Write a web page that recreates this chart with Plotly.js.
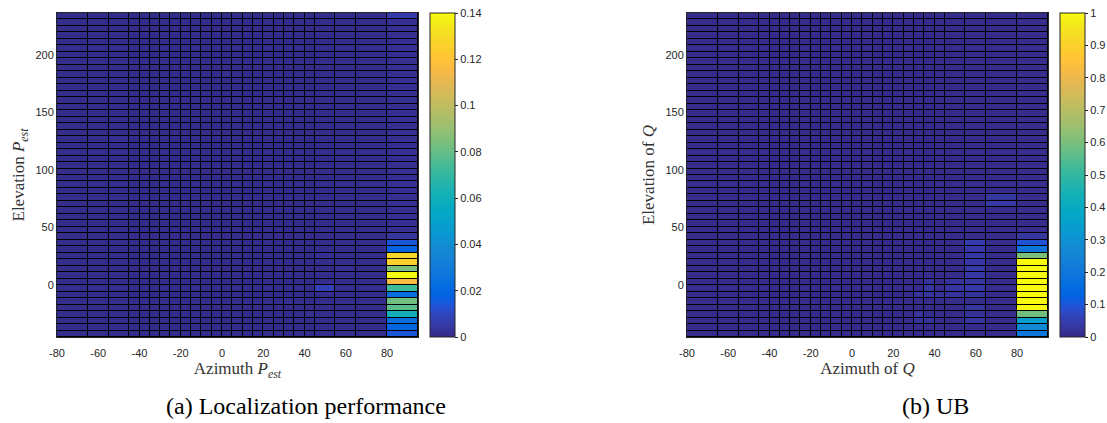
<!DOCTYPE html>
<html><head><meta charset="utf-8">
<script src="https://cdn.plot.ly/plotly-3.0.1.min.js"></script>
<style>html,body{margin:0;padding:0;background:#fff}#chart{width:1107px;height:423px}</style>
</head><body><div id="chart"></div><script>
// Cell edges (azimuth columns, elevation rows)
const azimuthEdges = [-80,-65,-55,-45,-40,-35,-30,-25,-20,-15,-10,-5,0,5,10,15,20,25,30,35,40,45,55,65,80,95];
const elevationEdges = [-45,-39.375,-33.75,-28.125,-22.5,-16.875,-11.25,-5.625,0,5.625,11.25,16.875,22.5,28.125,33.75,39.375,45,50.625,56.25,61.875,67.5,73.125,78.75,84.375,90,95.625,101.25,106.875,112.5,118.125,123.75,129.375,135,140.625,146.25,151.875,157.5,163.125,168.75,174.375,180,185.625,191.25,196.875,202.5,208.125,213.75,219.375,225,230.625,236.25];
const xTickVals = [-80,-60,-40,-20,0,20,40,60,80];
const xTickText = ['-80','-60','-40','-20','0','20','40','60','80'];
const yTickVals = [0,50,100,150,200];
const yTickText = ['0','50','100','150','200'];
const xTitleA = 'Azimuth <i>P</i><sub><i>est</i></sub>';
const yTitleA = 'Elevation <i>P</i><sub><i>est</i></sub>';
const xTitleB = 'Azimuth of <i>Q</i>';
const yTitleB = 'Elevation of <i>Q</i>';
const captionA = '(a) Localization performance';
const captionB = '(b) UB';

// (a) Localization performance, rows from bottom (elevation -45) to top
const zLocalization = [
[.001,.001,.001,.001,.001,.001,.001,.001,.001,.001,.001,.001,.001,.001,.001,.001,.001,.001,.001,.001,.001,.001,.001,.001,.014],
[.001,.001,.001,.001,.001,.001,.001,.001,.001,.001,.001,.001,.001,.001,.001,.001,.001,.001,.001,.001,.001,.001,.001,.001,.019],
[.001,.001,.001,.001,.001,.001,.001,.001,.001,.001,.001,.001,.001,.001,.001,.001,.001,.001,.001,.001,.001,.001,.001,.001,.024],
[.001,.001,.001,.001,.001,.001,.001,.001,.001,.001,.001,.001,.001,.001,.001,.001,.001,.001,.001,.001,.002,.001,.001,.001,.061],
[.001,.001,.001,.001,.001,.001,.001,.001,.001,.001,.001,.001,.001,.001,.001,.001,.001,.001,.001,.001,.001,.001,.001,.001,.078],
[.001,.001,.001,.001,.001,.001,.001,.001,.001,.001,.001,.001,.001,.001,.001,.001,.001,.001,.002,.001,.001,.001,.001,.001,.082],
[.001,.001,.001,.001,.001,.001,.001,.001,.001,.001,.001,.001,.001,.001,.001,.001,.001,.001,.001,.001,.001,.001,.001,.001,.023],
[.001,.001,.001,.001,.001,.001,.001,.001,.001,.001,.001,.001,.001,.001,.001,.001,.001,.001,.001,.001,.001,.008,.001,.001,.072],
[.001,.001,.001,.001,.001,.001,.001,.001,.001,.001,.001,.001,.001,.001,.001,.001,.001,.001,.001,.001,.001,.001,.001,.001,.116],
[.001,.001,.001,.001,.001,.001,.001,.001,.001,.001,.001,.001,.001,.001,.001,.001,.001,.001,.001,.001,.001,.001,.001,.001,.14],
[.001,.001,.001,.001,.001,.001,.001,.001,.001,.001,.001,.001,.001,.001,.001,.001,.001,.001,.001,.001,.001,.001,.002,.001,.084],
[.001,.001,.001,.001,.001,.001,.001,.001,.001,.001,.001,.001,.001,.001,.001,.001,.001,.001,.001,.001,.001,.001,.001,.001,.125],
[.001,.001,.001,.001,.001,.001,.001,.001,.001,.001,.001,.001,.001,.001,.001,.001,.001,.001,.001,.001,.001,.002,.001,.001,.128],
[.001,.001,.001,.001,.001,.001,.001,.001,.001,.001,.001,.001,.001,.001,.001,.001,.001,.001,.001,.001,.001,.001,.001,.001,.018],
[.001,.001,.001,.001,.001,.001,.001,.001,.001,.001,.001,.001,.001,.001,.001,.001,.001,.001,.001,.001,.001,.001,.001,.001,.014],
[.001,.001,.001,.001,.001,.001,.001,.001,.001,.001,.001,.001,.001,.001,.001,.001,.001,.001,.001,.001,.001,.001,.001,.001,.004],
[.001,.001,.001,.001,.001,.001,.001,.001,.001,.001,.001,.001,.001,.001,.001,.001,.001,.001,.001,.001,.001,.001,.001,.001,.002],
[.001,.001,.001,.001,.001,.001,.001,.001,.001,.001,.001,.001,.001,.001,.001,.001,.001,.001,.001,.001,.001,.001,.001,.001,.002],
[.001,.001,.001,.001,.001,.001,.001,.001,.001,.001,.001,.001,.001,.001,.001,.001,.001,.001,.001,.001,.001,.001,.001,.001,.002],
[.001,.001,.001,.001,.001,.001,.001,.001,.001,.001,.001,.001,.001,.001,.001,.001,.001,.001,.001,.001,.001,.001,.001,.001,.002],
[.001,.001,.001,.001,.001,.001,.001,.001,.001,.001,.001,.001,.001,.001,.001,.001,.001,.001,.001,.001,.001,.001,.001,.001,.002],
[.001,.001,.001,.001,.001,.001,.001,.001,.001,.001,.001,.001,.001,.001,.001,.001,.001,.001,.001,.001,.001,.001,.001,.001,.002],
[.001,.001,.001,.001,.001,.001,.001,.001,.001,.001,.001,.001,.001,.001,.001,.001,.001,.001,.001,.001,.001,.001,.001,.001,.002],
[.001,.001,.001,.001,.001,.001,.001,.001,.001,.001,.001,.001,.001,.001,.001,.001,.001,.001,.001,.001,.001,.001,.001,.001,.002],
[.001,.001,.001,.001,.001,.001,.001,.001,.001,.001,.001,.001,.001,.001,.001,.001,.001,.001,.001,.001,.001,.001,.001,.001,.002],
[.001,.001,.001,.001,.001,.001,.001,.001,.001,.001,.001,.001,.001,.001,.001,.001,.001,.001,.001,.001,.001,.001,.001,.001,.002],
[.001,.001,.001,.001,.001,.001,.001,.001,.001,.001,.001,.001,.001,.001,.001,.001,.001,.001,.001,.001,.001,.001,.001,.001,.002],
[.001,.001,.001,.001,.001,.001,.001,.001,.001,.001,.001,.001,.001,.001,.001,.001,.001,.001,.001,.001,.001,.001,.001,.001,.002],
[.001,.001,.001,.001,.001,.001,.001,.001,.001,.001,.001,.001,.001,.001,.001,.001,.001,.001,.001,.001,.001,.001,.001,.001,.002],
[.001,.001,.001,.001,.001,.001,.001,.001,.001,.001,.001,.001,.001,.001,.001,.001,.001,.001,.001,.001,.001,.001,.001,.001,.002],
[.001,.001,.002,.001,.001,.001,.001,.001,.001,.001,.001,.001,.001,.001,.001,.001,.001,.001,.001,.001,.001,.001,.001,.001,.002],
[.001,.001,.001,.001,.001,.001,.001,.001,.001,.001,.001,.001,.001,.001,.001,.001,.001,.001,.001,.001,.001,.001,.001,.001,.002],
[.001,.001,.001,.001,.001,.001,.001,.001,.001,.001,.001,.001,.001,.001,.001,.001,.001,.001,.001,.001,.001,.001,.001,.001,.002],
[.001,.001,.001,.001,.001,.001,.001,.001,.001,.001,.001,.001,.001,.001,.001,.001,.001,.001,.001,.001,.001,.001,.001,.001,.002],
[.001,.001,.001,.001,.001,.001,.001,.001,.001,.001,.001,.001,.001,.001,.001,.001,.001,.001,.001,.001,.001,.001,.001,.001,.002],
[.001,.001,.001,.001,.001,.001,.001,.001,.001,.001,.001,.001,.001,.001,.001,.001,.001,.001,.001,.001,.001,.001,.001,.001,.002],
[.001,.001,.001,.001,.001,.001,.001,.001,.001,.001,.001,.001,.001,.001,.001,.001,.001,.001,.001,.001,.001,.001,.001,.001,.002],
[.001,.001,.001,.001,.001,.001,.001,.001,.001,.001,.001,.001,.001,.001,.001,.001,.001,.001,.001,.001,.001,.001,.001,.001,.002],
[.001,.001,.001,.001,.001,.001,.001,.001,.001,.001,.001,.001,.001,.001,.001,.001,.001,.001,.001,.001,.001,.001,.001,.001,.002],
[.001,.001,.001,.001,.001,.001,.001,.001,.001,.001,.001,.001,.001,.001,.001,.001,.001,.001,.001,.001,.001,.001,.001,.001,.002],
[.001,.001,.001,.001,.001,.001,.001,.001,.001,.001,.001,.001,.002,.001,.001,.001,.001,.001,.001,.001,.001,.001,.001,.001,.002],
[.001,.001,.001,.001,.001,.001,.001,.001,.001,.001,.001,.001,.001,.001,.001,.001,.001,.001,.001,.001,.001,.001,.001,.001,.002],
[.001,.001,.001,.001,.001,.001,.001,.001,.001,.001,.001,.001,.001,.001,.001,.001,.001,.001,.001,.001,.001,.001,.001,.001,.002],
[.001,.001,.001,.001,.001,.001,.001,.001,.001,.001,.001,.001,.001,.001,.001,.001,.001,.001,.001,.001,.001,.001,.001,.001,.002],
[.001,.001,.001,.001,.001,.001,.001,.001,.001,.001,.001,.001,.001,.001,.001,.001,.001,.001,.001,.001,.001,.001,.001,.001,.002],
[.001,.001,.001,.001,.001,.001,.001,.001,.001,.001,.001,.001,.001,.001,.001,.001,.001,.001,.001,.001,.001,.001,.001,.001,.002],
[.001,.001,.001,.001,.001,.001,.001,.001,.001,.001,.001,.001,.001,.001,.001,.001,.001,.001,.001,.001,.001,.001,.001,.001,.002],
[.001,.001,.001,.001,.001,.001,.001,.001,.001,.001,.001,.001,.001,.001,.001,.001,.001,.001,.001,.001,.001,.001,.001,.001,.002],
[.001,.001,.001,.001,.001,.001,.001,.001,.001,.001,.001,.001,.001,.001,.001,.001,.001,.001,.001,.001,.001,.001,.001,.001,.002],
[.001,.001,.001,.001,.001,.001,.001,.001,.001,.001,.001,.001,.001,.001,.001,.001,.001,.001,.001,.001,.001,.001,.001,.001,.006]
];

// (b) UB, rows from bottom (elevation -45) to top
const zUB = [
[.006,.006,.006,.006,.006,.006,.006,.006,.006,.006,.006,.006,.006,.006,.006,.006,.006,.006,.006,.006,.006,.006,.006,.006,.2],
[.006,.006,.006,.006,.006,.006,.006,.006,.006,.006,.006,.006,.006,.006,.006,.006,.006,.006,.006,.006,.006,.006,.006,.006,.27],
[.006,.006,.006,.006,.006,.006,.006,.006,.006,.006,.006,.006,.006,.006,.006,.006,.006,.006,.025,.025,.006,.006,.03,.006,.34],
[.006,.006,.006,.006,.006,.006,.006,.006,.006,.006,.006,.006,.006,.006,.006,.006,.006,.006,.025,.006,.006,.006,.018,.006,.59],
[.006,.006,.006,.006,.006,.006,.006,.006,.006,.006,.006,.006,.006,.006,.006,.006,.006,.006,.006,.006,.006,.006,.03,.006,1],
[.006,.006,.006,.006,.006,.006,.006,.006,.006,.006,.006,.006,.006,.006,.006,.006,.006,.006,.006,.006,.006,.006,.006,.006,1],
[.006,.006,.006,.006,.006,.006,.006,.006,.006,.006,.006,.006,.006,.006,.006,.006,.006,.006,.025,.03,.018,.025,.022,.006,1],
[.006,.006,.006,.006,.006,.006,.006,.006,.006,.006,.006,.006,.006,.006,.006,.006,.006,.006,.006,.03,.006,.03,.035,.006,1],
[.006,.006,.006,.006,.006,.006,.006,.006,.006,.006,.006,.006,.006,.006,.006,.006,.006,.006,.006,.025,.006,.025,.03,.006,1],
[.006,.006,.006,.006,.006,.006,.006,.006,.006,.006,.006,.006,.006,.006,.006,.006,.006,.006,.006,.006,.006,.006,.035,.006,1],
[.006,.006,.006,.006,.006,.006,.006,.006,.006,.006,.006,.006,.006,.006,.006,.006,.006,.006,.006,.006,.006,.006,.038,.006,1],
[.006,.006,.006,.006,.006,.006,.006,.006,.006,.006,.006,.006,.006,.006,.006,.006,.006,.006,.006,.006,.006,.006,.038,.006,1],
[.006,.006,.006,.006,.006,.006,.006,.006,.006,.006,.006,.006,.006,.006,.006,.006,.006,.006,.006,.006,.006,.006,.038,.006,.6],
[.006,.006,.006,.006,.006,.006,.006,.006,.006,.006,.006,.006,.006,.006,.006,.006,.006,.006,.006,.006,.006,.006,.035,.006,.19],
[.006,.006,.006,.006,.006,.006,.006,.006,.006,.006,.006,.006,.006,.006,.006,.006,.006,.006,.006,.006,.006,.006,.045,.006,.095],
[.006,.006,.006,.006,.006,.006,.006,.006,.006,.006,.006,.006,.006,.006,.006,.006,.006,.006,.006,.006,.006,.006,.006,.006,.03],
[.006,.006,.006,.006,.006,.006,.006,.006,.006,.006,.006,.006,.006,.006,.006,.006,.006,.006,.006,.006,.006,.006,.006,.006,.008],
[.006,.006,.006,.006,.006,.006,.006,.006,.006,.006,.006,.006,.006,.006,.006,.006,.006,.006,.006,.006,.006,.006,.006,.006,.008],
[.006,.006,.006,.006,.006,.006,.006,.006,.006,.006,.006,.006,.006,.006,.006,.006,.006,.006,.006,.006,.006,.006,.006,.006,.008],
[.006,.006,.006,.006,.006,.006,.006,.006,.006,.006,.006,.006,.006,.006,.006,.006,.006,.006,.006,.006,.006,.006,.006,.006,.008],
[.006,.006,.006,.006,.006,.006,.006,.006,.006,.006,.006,.006,.006,.006,.006,.006,.006,.006,.006,.006,.006,.006,.006,.035,.008],
[.006,.006,.006,.006,.006,.006,.006,.006,.006,.006,.006,.006,.006,.006,.006,.006,.006,.006,.006,.006,.006,.006,.006,.03,.008],
[.006,.006,.006,.006,.006,.006,.006,.006,.006,.006,.006,.006,.006,.006,.006,.006,.006,.006,.006,.006,.006,.006,.006,.006,.008],
[.006,.006,.006,.006,.006,.006,.006,.006,.006,.006,.006,.006,.006,.006,.006,.006,.006,.006,.006,.006,.006,.006,.006,.006,.008],
[.006,.006,.006,.006,.006,.006,.006,.006,.006,.006,.006,.006,.006,.006,.006,.006,.006,.006,.006,.006,.006,.006,.006,.006,.008],
[.006,.006,.006,.006,.006,.006,.006,.006,.006,.006,.006,.006,.006,.006,.006,.006,.006,.006,.006,.006,.006,.006,.006,.006,.008],
[.006,.006,.006,.006,.006,.006,.006,.006,.006,.006,.006,.006,.006,.006,.006,.006,.006,.006,.006,.006,.006,.006,.006,.006,.008],
[.006,.006,.006,.006,.006,.006,.006,.006,.006,.006,.006,.006,.006,.006,.006,.006,.006,.006,.006,.006,.006,.006,.006,.006,.008],
[.006,.006,.006,.006,.006,.006,.006,.006,.006,.006,.006,.006,.006,.006,.006,.006,.006,.006,.006,.006,.006,.006,.006,.006,.008],
[.006,.006,.006,.006,.006,.006,.006,.006,.006,.006,.006,.006,.006,.006,.006,.006,.006,.006,.006,.006,.006,.006,.006,.006,.008],
[.006,.006,.006,.006,.006,.006,.006,.006,.006,.006,.006,.006,.006,.006,.006,.006,.006,.006,.006,.006,.006,.006,.006,.006,.008],
[.006,.006,.006,.006,.006,.006,.006,.006,.006,.006,.006,.006,.006,.006,.006,.006,.006,.006,.006,.006,.006,.006,.006,.006,.008],
[.006,.006,.006,.006,.006,.006,.006,.006,.006,.006,.006,.006,.006,.006,.006,.006,.006,.006,.006,.006,.006,.006,.006,.006,.008],
[.006,.006,.006,.006,.006,.006,.006,.006,.006,.006,.006,.006,.006,.006,.006,.006,.006,.006,.006,.006,.006,.006,.006,.006,.008],
[.006,.006,.006,.006,.006,.006,.006,.006,.006,.006,.006,.006,.006,.006,.006,.006,.006,.006,.006,.006,.006,.006,.006,.006,.008],
[.006,.006,.006,.006,.006,.006,.006,.006,.006,.006,.006,.006,.006,.006,.006,.006,.006,.006,.006,.006,.006,.006,.006,.006,.008],
[.006,.006,.006,.006,.006,.006,.006,.006,.006,.006,.006,.006,.006,.006,.006,.006,.006,.006,.006,.006,.006,.006,.006,.006,.008],
[.006,.006,.006,.006,.006,.006,.006,.006,.006,.006,.006,.006,.006,.006,.006,.006,.006,.006,.006,.006,.006,.006,.006,.006,.008],
[.006,.006,.006,.006,.006,.006,.006,.006,.006,.006,.006,.006,.006,.006,.006,.006,.006,.006,.006,.006,.006,.006,.006,.006,.008],
[.006,.006,.006,.006,.006,.006,.006,.006,.006,.006,.006,.006,.006,.006,.006,.006,.006,.006,.006,.006,.006,.006,.006,.006,.008],
[.006,.006,.006,.006,.006,.006,.006,.006,.006,.006,.006,.006,.006,.006,.006,.006,.006,.006,.006,.006,.006,.006,.006,.006,.008],
[.006,.006,.006,.006,.006,.006,.006,.006,.006,.006,.006,.006,.006,.006,.006,.006,.006,.006,.006,.006,.006,.006,.006,.006,.008],
[.006,.006,.006,.006,.006,.006,.006,.006,.006,.006,.006,.006,.006,.006,.006,.006,.006,.006,.006,.006,.006,.006,.006,.006,.008],
[.006,.006,.006,.006,.006,.006,.006,.006,.006,.006,.006,.006,.006,.006,.006,.006,.006,.006,.006,.006,.006,.006,.006,.006,.008],
[.006,.006,.006,.006,.006,.006,.006,.006,.006,.006,.006,.006,.006,.006,.006,.006,.006,.006,.006,.006,.006,.006,.006,.006,.008],
[.006,.006,.006,.006,.006,.006,.006,.006,.006,.006,.006,.006,.006,.006,.006,.006,.006,.006,.006,.006,.006,.006,.006,.006,.008],
[.006,.006,.006,.006,.006,.006,.006,.006,.006,.006,.006,.006,.006,.006,.006,.006,.006,.006,.006,.006,.006,.006,.006,.006,.008],
[.006,.006,.006,.006,.006,.006,.006,.006,.006,.006,.006,.006,.006,.006,.006,.006,.006,.006,.006,.006,.006,.006,.006,.006,.008],
[.006,.006,.006,.006,.006,.006,.006,.006,.006,.006,.006,.006,.006,.006,.006,.006,.006,.006,.006,.006,.006,.006,.006,.006,.008],
[.006,.006,.006,.006,.006,.006,.006,.006,.006,.006,.006,.006,.006,.006,.006,.006,.006,.006,.006,.006,.006,.006,.006,.006,.008]
];

// Parula colormap (style)
const parula = [[0.2081,0.1663,0.5292],[0.2116,0.1898,0.5777],[0.2123,0.2138,0.6270],[0.2081,0.2386,0.6771],[0.1959,0.2645,0.7279],[0.1707,0.2919,0.7792],[0.1253,0.3242,0.8303],[0.0591,0.3598,0.8683],[0.0117,0.3875,0.8820],[0.0060,0.4086,0.8828],[0.0165,0.4266,0.8786],[0.0329,0.4430,0.8720],[0.0498,0.4586,0.8641],[0.0629,0.4737,0.8554],[0.0723,0.4887,0.8467],[0.0779,0.5040,0.8384],[0.0793,0.5200,0.8312],[0.0749,0.5375,0.8263],[0.0641,0.5570,0.8240],[0.0488,0.5772,0.8228],[0.0343,0.5966,0.8199],[0.0265,0.6137,0.8135],[0.0239,0.6287,0.8038],[0.0231,0.6418,0.7913],[0.0228,0.6535,0.7768],[0.0267,0.6642,0.7607],[0.0384,0.6743,0.7436],[0.0590,0.6838,0.7254],[0.0843,0.6928,0.7062],[0.1133,0.7015,0.6859],[0.1453,0.7098,0.6646],[0.1801,0.7177,0.6424],[0.2178,0.7250,0.6193],[0.2586,0.7317,0.5954],[0.3022,0.7376,0.5712],[0.3482,0.7424,0.5473],[0.3953,0.7459,0.5244],[0.4420,0.7481,0.5033],[0.4871,0.7491,0.4840],[0.5300,0.7491,0.4661],[0.5709,0.7485,0.4494],[0.6099,0.7473,0.4337],[0.6473,0.7456,0.4188],[0.6834,0.7435,0.4044],[0.7184,0.7411,0.3905],[0.7525,0.7384,0.3768],[0.7858,0.7356,0.3633],[0.8185,0.7327,0.3498],[0.8507,0.7299,0.3360],[0.8824,0.7274,0.3217],[0.9139,0.7258,0.3063],[0.9450,0.7261,0.2886],[0.9739,0.7314,0.2666],[0.9938,0.7455,0.2403],[0.9990,0.7653,0.2164],[0.9955,0.7861,0.1967],[0.9880,0.8066,0.1794],[0.9789,0.8271,0.1633],[0.9697,0.8481,0.1475],[0.9626,0.8705,0.1309],[0.9589,0.8949,0.1132],[0.9598,0.9218,0.0948],[0.9661,0.9514,0.0755],[0.9763,0.9831,0.0538]];
const colorscale = parula.map((c,i)=>[i/(parula.length-1),'rgb('+c.map(v=>Math.round(v*255)).join(',')+')']);

const W = 1107, H = 423;
const plotTop = 13, plotBottom = 337;
const yDomain = [(H-plotBottom)/H, (H-plotTop)/H];
const tickFont = {family:'Liberation Sans, Arial, sans-serif', size:11, color:'#262626'};
const titleFont = {family:'Liberation Serif, Times New Roman, serif', size:17, color:'#333'};
const captionFont = {family:'Liberation Serif, Times New Roman, serif', size:24, color:'#000'};

function heat(z, xa, ya, zmax, dtick, cbLeft){
  return {type:'heatmap', x:azimuthEdges, y:elevationEdges, z:z, xaxis:xa, yaxis:ya,
    zmin:0, zmax:zmax, colorscale:colorscale, xgap:1, ygap:1, zsmooth:false, hoverinfo:'skip',
    colorbar:{x:cbLeft/W, xanchor:'left', xref:'paper', y:yDomain[0], yanchor:'bottom', yref:'paper',
      len:yDomain[1]-yDomain[0], lenmode:'fraction', thickness:25, thicknessmode:'pixels',
      xpad:0, ypad:0, outlinecolor:'#262626', outlinewidth:1, ticks:'outside', ticklen:3,
      tickcolor:'#262626', tick0:0, dtick:dtick, tickfont:tickFont}};
}

function xax(domainPx, title, anchor){
  return {domain:[domainPx[0]/W, domainPx[1]/W], anchor:anchor, range:[-80,95],
    tickmode:'array', tickvals:xTickVals, ticktext:xTickText, ticklabelstandoff:6,
    showgrid:false, zeroline:false, showline:true, mirror:true, linecolor:'#262626', linewidth:1,
    ticks:'', tickfont:tickFont, automargin:false, title:{text:title, font:titleFont, standoff:1}};
}
function yax(title, anchor){
  return {domain:yDomain, anchor:anchor, range:[-45,236.25],
    tickmode:'array', tickvals:yTickVals, ticktext:yTickText,
    showgrid:false, zeroline:false, showline:true, mirror:true, linecolor:'#262626', linewidth:1,
    ticks:'', tickfont:tickFont, automargin:false, title:{text:title, font:titleFont, standoff:6}};
}

const data = [
  heat(zLocalization, 'x', 'y', 0.14, 0.02, 430),
  heat(zUB, 'x2', 'y2', 1, 0.1, 1060)
];
const layout = {
  width:W, height:H, margin:{l:0,r:0,t:0,b:0},
  paper_bgcolor:'#fff', plot_bgcolor:'#000', showlegend:false,
  xaxis:xax([57,418], xTitleA, 'y'), yaxis:yax(yTitleA, 'x'),
  xaxis2:xax([687,1048], xTitleB, 'y2'), yaxis2:yax(yTitleB, 'x2'),
  annotations:[
    {text:captionA, xref:'paper', yref:'paper', x:306/W, y:(H-406)/H, xanchor:'center', yanchor:'middle', showarrow:false, font:captionFont},
    {text:captionB, xref:'paper', yref:'paper', x:935/W, y:(H-406)/H, xanchor:'center', yanchor:'middle', showarrow:false, font:captionFont}
  ]
};
Plotly.newPlot('chart', data, layout, {staticPlot:true, displayModeBar:false});
</script></body></html>
